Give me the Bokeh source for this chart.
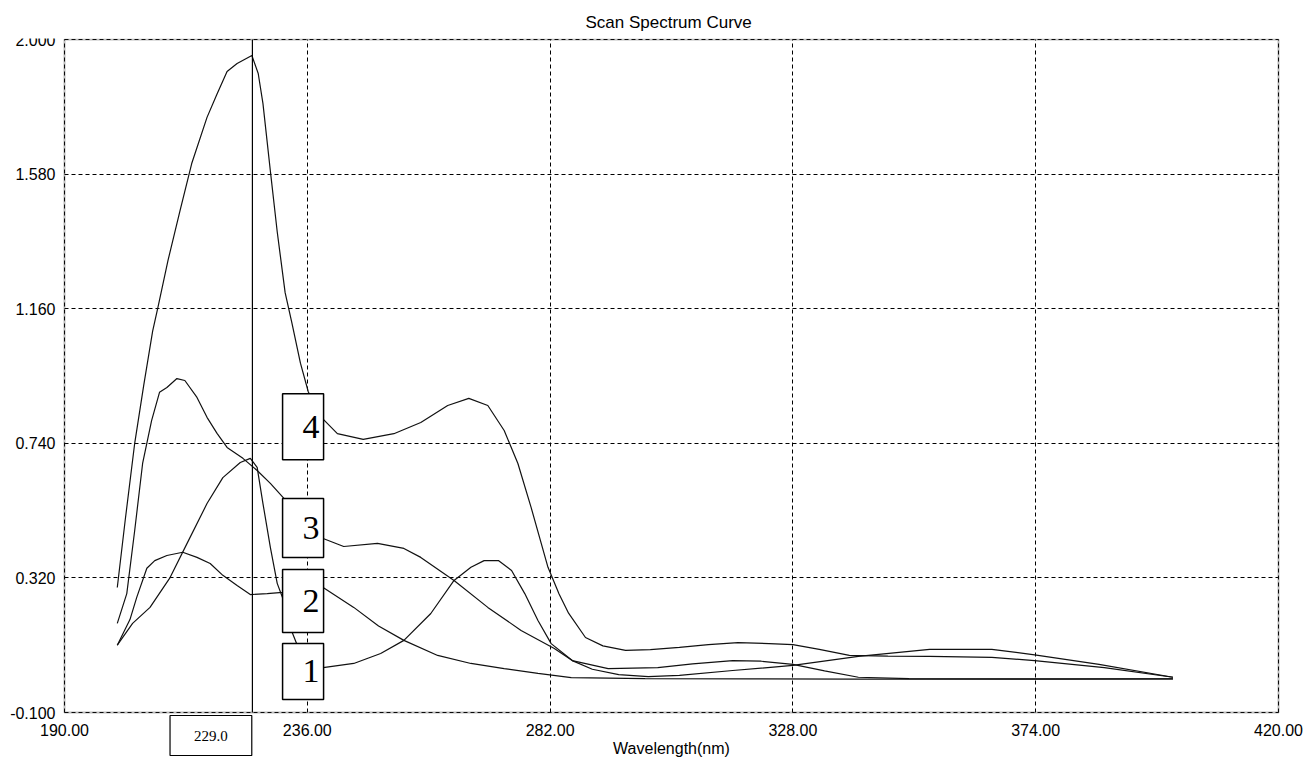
from bokeh.plotting import figure
from bokeh.models import FixedTicker, Label, PrintfTickFormatter, BoxAnnotation
from bokeh.core.properties import value
from bokeh.embed import file_html
from bokeh.resources import INLINE

# ---------------- data ----------------
title_text = "Scan Spectrum Curve"
x_label = "Wavelength(nm)"
x_ticks = [190, 236, 282, 328, 374, 420]
x_tick_labels = ["190.00", "236.00", "282.00", "328.00", "374.00", "420.00"]
y_ticks = [-0.1, 0.32, 0.74, 1.16, 1.58, 2.0]
y_tick_labels = ["-0.100", "0.320", "0.740", "1.160", "1.580", "2.000"]

wl_1 = [200, 202.9, 206.2, 210, 213.2, 217, 220, 223.3, 225.2, 226.5, 227.6, 229, 230.3,
        231.3, 233.2, 234.1, 236.5, 239, 244.8, 249.9, 254.3, 259.4, 263.8, 267, 269.5,
        272.2, 274.7, 277.2, 279.7, 282.2, 286.2, 290, 295, 300.6, 306.5, 316.6, 328,
        340.4, 353.9, 365.7, 373.8, 386, 400]
abs_1 = [0.11, 0.178, 0.228, 0.321, 0.427, 0.552, 0.633, 0.68, 0.693, 0.665, 0.552, 0.415,
         0.303, 0.259, 0.147, 0.11, 0.07, 0.04, 0.053, 0.084, 0.125, 0.209, 0.312, 0.353,
         0.374, 0.374, 0.343, 0.271, 0.187, 0.115, 0.062, 0.035, 0.018, 0.012, 0.016,
         0.031, 0.047, 0.075, 0.097, 0.097, 0.08, 0.05, 0.01]

wl_2 = [200, 202.4, 203.7, 205.6, 207.1, 209.4, 212.4, 215.1, 217.6, 220, 222.7, 225.2,
        228.4, 231.3, 235, 239, 244.8, 249.5, 254.3, 260.7, 267, 273.3, 279.7, 286, 300,
        320, 340, 360, 380, 400]
abs_2 = [0.11, 0.19, 0.26, 0.35, 0.374, 0.39, 0.40, 0.384, 0.365, 0.328, 0.296, 0.268,
         0.271, 0.275, 0.285, 0.29, 0.228, 0.17, 0.125, 0.078, 0.053, 0.037, 0.022, 0.009,
         0.006, 0.005, 0.004, 0.004, 0.004, 0.005]

wl_3 = [200, 201.8, 203.3, 204.8, 206.5, 208, 209.4, 211.3, 212.8, 215.1, 217, 218.9,
        220.8, 223.8, 226.5, 229, 231.4, 235, 239, 242.9, 249.3, 254.3, 257.5, 263.8,
        270.2, 276.5, 282.8, 286.2, 293, 302.4, 309, 316.6, 322, 328, 334, 340.4, 350,
        370, 400]
abs_3 = [0.178, 0.271, 0.468, 0.677, 0.811, 0.899, 0.914, 0.942, 0.936, 0.883, 0.821,
         0.771, 0.727, 0.693, 0.655, 0.615, 0.571, 0.50, 0.443, 0.418, 0.428, 0.412, 0.384,
         0.312, 0.228, 0.156, 0.10, 0.062, 0.037, 0.04, 0.052, 0.062, 0.060, 0.05, 0.03,
         0.01, 0.006, 0.005, 0.005]

wl_4 = [200, 201.5, 203.3, 205, 206.7, 207.7, 209.6, 211.9, 214.1, 217, 218.9, 220.8,
        222.7, 225.5, 226.7, 227.6, 229, 230.3, 231.8, 233.1, 234.7, 236.2, 238.9, 241.7,
        246.6, 252.4, 257.5, 262.6, 266.6, 270.2, 273.3, 275.9, 278.4, 281.6, 283.7,
        285.5, 288.7, 292, 296.3, 301, 306.5, 312, 317.6, 323.5, 328, 333, 338.7, 346,
        353.9, 365.7, 373.8, 387, 400]
abs_4 = [0.29, 0.50, 0.74, 0.92, 1.09, 1.164, 1.31, 1.467, 1.613, 1.757, 1.83, 1.90,
         1.925, 1.95, 1.894, 1.80, 1.59, 1.40, 1.21, 1.114, 0.99, 0.90, 0.817, 0.77,
         0.752, 0.77, 0.805, 0.858, 0.88, 0.858, 0.78, 0.677, 0.54, 0.353, 0.27, 0.21,
         0.134, 0.108, 0.094, 0.096, 0.103, 0.112, 0.118, 0.115, 0.112, 0.097, 0.078,
         0.076, 0.075, 0.072, 0.062, 0.04, 0.01]

curve_names = ["1", "2", "3", "4"]
tag_x = [235.2, 235.2, 235.2, 235.2]
tag_y = [0.028, 0.248, 0.476, 0.792]
tag_h = [56, 63, 59, 66]

cursor_wl = 225.6
cursor_text = "229.0"

# ---------------- layout ----------------
SANS = "Liberation Sans"
SERIF = "Liberation Serif"

x_lo, x_hi = x_ticks[0], x_ticks[-1]
y_lo, y_hi = y_ticks[0], y_ticks[-1]
W, H = 1310, 759
box_left, box_top = 64, 39            # pixel position of the plot box
plot_w, plot_h = 1214, 673            # pixel size of the plot box
top_border = 38
ppu_x = plot_w / (x_hi - x_lo)
ppu_y = plot_h / (y_hi - y_lo)
frame_h = H - top_border

p = figure(frame_width=W, frame_height=frame_h,
           x_range=(x_lo - box_left / ppu_x, x_lo + (W - box_left) / ppu_x),
           y_range=(y_hi - (H - box_top) / ppu_y, y_hi + (box_top - top_border) / ppu_y),
           output_backend="svg", toolbar_location=None, title=title_text,
           min_border_left=0, min_border_right=0, min_border_top=top_border,
           min_border_bottom=0)

p.background_fill_color = "white"
p.border_fill_color = "white"
p.outline_line_color = None

p.title.align = "left"
p.title.offset = 585
p.title.text_font = SANS
p.title.text_font_size = "17px"
p.title.text_font_style = "normal"
p.title.text_color = "black"
p.title.standoff = 14

p.xaxis.ticker = FixedTicker(ticks=x_ticks)
p.yaxis.ticker = FixedTicker(ticks=y_ticks)
p.xaxis.formatter = PrintfTickFormatter(format="%.2f")
p.yaxis.formatter = PrintfTickFormatter(format="%.3f")
p.xaxis.major_label_overrides = dict(zip(x_ticks, x_tick_labels))
p.yaxis.major_label_overrides = dict(zip(y_ticks, y_tick_labels))
p.xaxis.fixed_location = y_lo
p.yaxis.fixed_location = x_lo
p.xaxis.bounds = (x_lo, x_hi)
p.yaxis.bounds = (y_lo, y_hi)

for ax in (p.xaxis, p.yaxis):
    ax.axis_line_color = None
    ax.major_tick_line_color = None
    ax.minor_tick_line_color = None
    ax.major_tick_out = 0
    ax.major_tick_in = 0
    ax.major_label_text_font = SANS
    ax.major_label_text_font_size = "16px"
    ax.major_label_text_color = "black"
p.yaxis.major_label_standoff = 9
p.xaxis.major_label_standoff = 11

p.xaxis.axis_label = x_label
p.xaxis.axis_label_text_font = SANS
p.xaxis.axis_label_text_font_size = "16px"
p.xaxis.axis_label_text_font_style = "normal"
p.xaxis.axis_label_text_color = "black"
p.xaxis.axis_label_standoff = 1

for g in (p.xgrid, p.ygrid):
    g.grid_line_color = "black"
    g.grid_line_dash = "4 3"
    g.grid_line_width = 1

if "cross_bounds" in p.xgrid[0].properties():
    p.xgrid.cross_bounds = (y_lo, y_hi)
    p.ygrid.cross_bounds = (x_lo, x_hi)
else:
    p.xgrid.visible = False
    p.ygrid.visible = False
    n = len(x_ticks)
    p.segment(x0=x_ticks, y0=[y_lo] * n, x1=x_ticks, y1=[y_hi] * n,
              line_color="black", line_dash="4 3", line_width=1)
    m = len(y_ticks)
    p.segment(x0=[x_lo] * m, y0=y_ticks, x1=[x_hi] * m, y1=y_ticks,
              line_color="black", line_dash="4 3", line_width=1)

for wl, ab in ((wl_1, abs_1), (wl_2, abs_2), (wl_3, abs_3), (wl_4, abs_4)):
    p.line(wl, ab, line_color="#111111", line_width=1.2)

p.rect(x=tag_x, y=tag_y, width=41, height=tag_h, width_units="screen", height_units="screen",
       fill_color="white", line_color="black", line_width=1.5)
p.text(x=tag_x, y=tag_y, text=curve_names, x_offset=8, text_align="center",
       text_baseline="middle", text_font=value(SERIF), text_font_size="34px",
       text_color="black")

# plot box
p.add_layout(BoxAnnotation(left=x_lo, right=x_hi, bottom=y_lo, top=y_hi,
                           fill_color=None, line_color="#222222", line_width=2))

# cursor line and readout
p.segment(x0=[cursor_wl], y0=[y_lo], x1=[cursor_wl], y1=[y_hi], line_color="black",
          line_width=1.2)
p.add_layout(Label(x=cursor_wl, y=y_lo, x_offset=-41.5, y_offset=-23, text=cursor_text,
                   text_align="center", text_baseline="middle", text_font=SERIF,
                   text_font_size="15px", text_color="black",
                   background_fill_color="white", border_line_color="black",
                   border_line_width=1.2, padding=(24, 15)))

open("out.html", "w").write(file_html(p, INLINE))
